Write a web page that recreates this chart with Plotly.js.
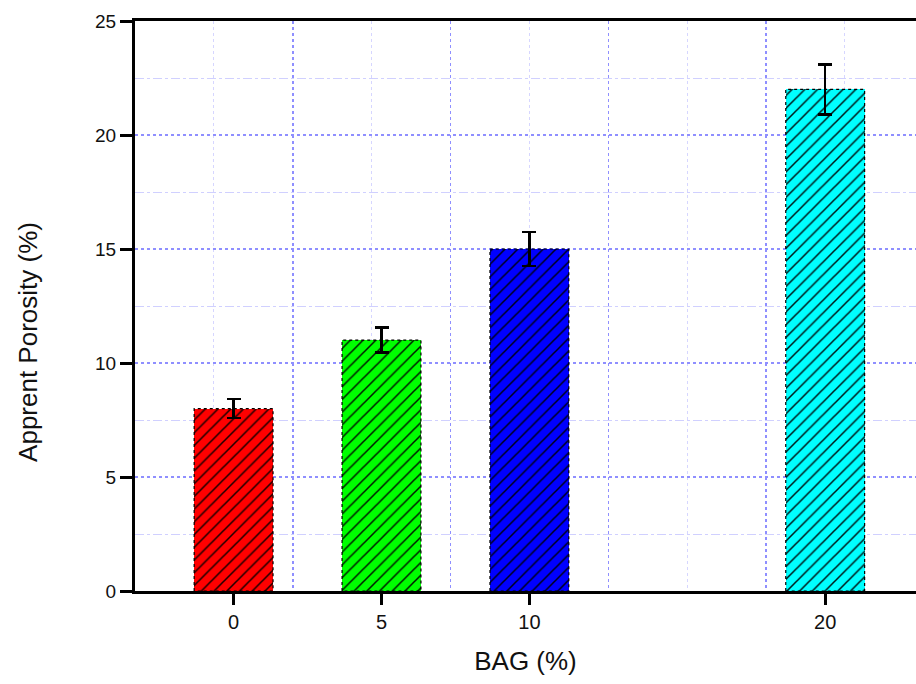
<!DOCTYPE html>
<html>
<head>
<meta charset="utf-8">
<script src="https://cdn.plot.ly/plotly-3.0.1.min.js"></script>
<style>html,body{margin:0;padding:0;background:#fff;}#chart{width:916px;height:684px;}</style>
</head>
<body>
<div id="chart"></div>
<script>
// Data
const bagPercent = [0, 5, 10, 20];
const porosity = [8.0, 11.0, 15.0, 22.0];
const porosityErr = [0.42, 0.55, 0.74, 1.1];
const barColors = ['#ff0000', '#00ff00', '#0000ff', '#00ffff'];
const xTickVals = [0, 5, 10, 20];
const xTickText = ['0', '5', '10', '20'];

const barWidth = 8 / 3;
const font = '"Liberation Sans", Arial, sans-serif';

// dotted outlines derived from the bar data
const ox = [], oy = [];
bagPercent.forEach((x, i) => {
  const l = x - barWidth / 2, r = x + barWidth / 2, v = porosity[i];
  ox.push(l, l, r, r, l, null);
  oy.push(0, v, v, 0, 0, null);
});

const traces = [
  {
    type: 'bar',
    x: bagPercent,
    y: porosity,
    width: barWidth,
    marker: {color: barColors, line: {width: 0}},
    hoverinfo: 'x+y',
    showlegend: false
  },
  {
    type: 'bar',
    x: bagPercent,
    y: porosity,
    width: barWidth,
    marker: {
      color: 'rgba(0,0,0,0)',
      line: {width: 0},
      pattern: {shape: '/', fillmode: 'overlay', fgcolor: '#000000', fgopacity: 0.9, size: 9, solidity: 0.17}
    },
    error_y: {type: 'data', array: porosityErr, visible: true, color: '#000', thickness: 2.5, width: 7},
    hoverinfo: 'skip',
    showlegend: false
  },
  {
    type: 'scatter',
    mode: 'lines',
    x: ox, y: oy,
    line: {color: '#000', width: 1.2, dash: 'dot'},
    hoverinfo: 'skip',
    showlegend: false
  },
  {
    type: 'scatter',
    mode: 'markers',
    x: [bagPercent[0]], y: [porosity[0]],
    xaxis: 'x2',
    marker: {opacity: 0},
    hoverinfo: 'skip',
    showlegend: false
  }
];

const xRange = [-10 / 3, 23.07];

const layout = {
  width: 916, height: 684,
  margin: {l: 135, r: 0, t: 21, b: 93},
  paper_bgcolor: '#fff', plot_bgcolor: '#fff',
  font: {family: font, color: '#111'},
  barmode: 'overlay',
  bargap: 0,
  xaxis: {
    range: xRange,
    tickmode: 'array', tickvals: xTickVals, ticktext: xTickText,
    ticks: 'outside', ticklen: 11, tickwidth: 3, tickcolor: '#000',
    showline: true, linewidth: 3, linecolor: '#000', mirror: true,
    showgrid: false, zeroline: false,
    tickfont: {size: 20, family: font, color: '#111'},
    title: {text: 'BAG (%)', font: {size: 26, family: font, color: '#111'}, standoff: 20}
  },
  xaxis2: {
    overlaying: 'x', side: 'top',
    range: xRange,
    tickmode: 'linear', tick0: 2, dtick: 16 / 3,
    showgrid: true, gridcolor: '#8f8fff', griddash: 'dot', gridwidth: 1.5,
    minor: {tickmode: 'linear', tick0: 2, dtick: 8 / 3, showgrid: true, gridcolor: '#d6d6ff', gridwidth: 1, ticks: ''},
    showticklabels: false, ticks: '', showline: false, zeroline: false
  },
  yaxis: {
    range: [0, 25],
    tickmode: 'linear', tick0: 0, dtick: 5,
    ticks: 'outside', ticklen: 12, tickwidth: 3, tickcolor: '#000',
    showline: true, linewidth: 3, linecolor: '#000', mirror: false,
    showgrid: true, gridcolor: '#8f8fff', griddash: 'dot', gridwidth: 1.5,
    minor: {tickmode: 'linear', tick0: 0, dtick: 2.5, showgrid: true, gridcolor: '#d0d0ff', griddash: 'dashdot', gridwidth: 1, ticks: ''},
    zeroline: false,
    tickfont: {size: 19, family: font, color: '#111'}
  },
  annotations: [{
    text: 'Apprent Porosity (%)',
    xref: 'paper', yref: 'paper',
    x: -0.137, y: 0.437,
    xanchor: 'center', yanchor: 'middle',
    textangle: -90, showarrow: false,
    font: {size: 26, family: font, color: '#111'}
  }]
};

Plotly.newPlot('chart', traces, layout, {displayModeBar: false, staticPlot: true});
</script>
</body>
</html>
